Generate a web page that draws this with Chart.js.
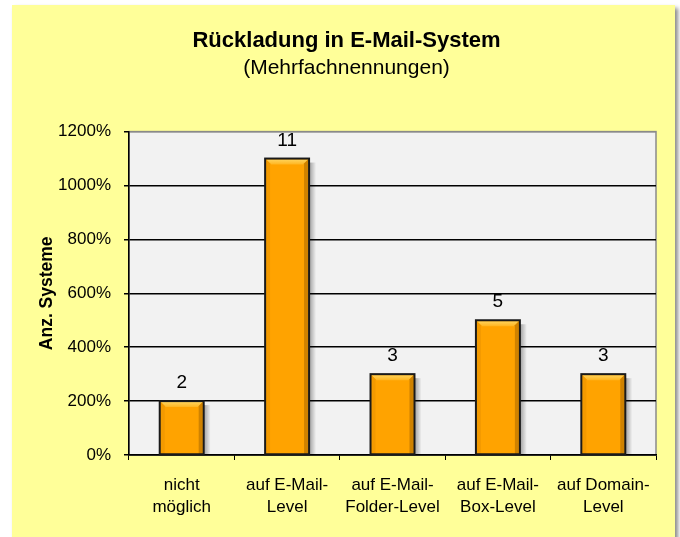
<!DOCTYPE html>
<html>
<head>
<meta charset="utf-8">
<script src="https://cdn.jsdelivr.net/npm/chart.js@4.4.1/dist/chart.umd.min.js"></script>
<style>
    body { margin: 0; background: #ffffff; }
    #wrap { width: 680px; height: 537px; }
</style>
</head>
<body>
<div id="wrap"><canvas id="rueckChart" width="680" height="537"></canvas></div>
<script>
// values
const categories = [['nicht', 'möglich'], ['auf E-Mail-', 'Level'], ['auf E-Mail-', 'Folder-Level'], ['auf E-Mail-', 'Box-Level'], ['auf Domain-', 'Level']];
const systemCounts = [2, 11, 3, 5, 3];
const yTicks = [0, 2, 4, 6, 8, 10, 12];

const FONT = "'Liberation Sans', Arial, sans-serif";

// yellow panel + grey plot area
const panelPlugin = {
    id: 'panel',
    beforeDraw: function (chart) {
        const ctx = chart.ctx;
        const a = chart.chartArea;
        ctx.save();
        ctx.shadowColor = 'rgba(0,0,0,0.45)';
        ctx.shadowBlur = 4;
        ctx.shadowOffsetX = 3;
        ctx.shadowOffsetY = 3;
        ctx.fillStyle = '#ffff99';
        ctx.fillRect(12, 5, 663, 545);
        ctx.restore();

        ctx.save();
        ctx.fillStyle = '#f2f2f2';
        ctx.fillRect(a.left, a.top, a.right - a.left, a.bottom - a.top);
        ctx.strokeStyle = '#8a8a8a';
        ctx.lineWidth = 1.5;
        ctx.strokeRect(a.left, a.top, a.right - a.left, a.bottom - a.top);
        ctx.restore();
    }
};

// bar shadow, bevel and value labels
const barLook = {
    id: 'barLook',
    beforeDatasetsDraw: function (chart) {
        const ctx = chart.ctx;
        chart.getDatasetMeta(0).data.forEach(function (bar) {
            const right = bar.x + bar.width / 2;
            const g = ctx.createLinearGradient(right, 0, right + 7, 0);
            g.addColorStop(0, 'rgba(0,0,0,0.35)');
            g.addColorStop(1, 'rgba(0,0,0,0)');
            ctx.save();
            ctx.fillStyle = g;
            ctx.fillRect(right, bar.y + 4, 7, bar.base - bar.y - 4);
            ctx.restore();
        });
    },
    afterDatasetsDraw: function (chart) {
        const ctx = chart.ctx;
        chart.getDatasetMeta(0).data.forEach(function (bar, i) {
            const l = bar.x - bar.width / 2 + 1;
            const r = bar.x + bar.width / 2 - 1;
            const t = bar.y + 1;
            const b = bar.base;
            const s = 5;
            ctx.save();
            // top bevel
            const tg = ctx.createLinearGradient(0, t, 0, t + s);
            tg.addColorStop(0, '#ffd35a');
            tg.addColorStop(1, '#ffb520');
            ctx.fillStyle = tg;
            ctx.beginPath();
            ctx.moveTo(l, t); ctx.lineTo(r, t); ctx.lineTo(r - s, t + s); ctx.lineTo(l + s, t + s);
            ctx.closePath(); ctx.fill();
            // right bevel
            ctx.fillStyle = '#cf8200';
            ctx.beginPath();
            ctx.moveTo(r, t); ctx.lineTo(r, b); ctx.lineTo(r - 4, b); ctx.lineTo(r - 4, t + 4);
            ctx.closePath(); ctx.fill();
            // left bevel
            ctx.fillStyle = '#f39a00';
            ctx.beginPath();
            ctx.moveTo(l, t); ctx.lineTo(l + 4, t + 4); ctx.lineTo(l + 4, b); ctx.lineTo(l, b);
            ctx.closePath(); ctx.fill();
            // outline
            ctx.strokeStyle = '#1a1a1a';
            ctx.lineWidth = 2;
            ctx.strokeRect(bar.x - bar.width / 2, bar.y, bar.width, bar.base - bar.y);
            // value
            ctx.fillStyle = '#000';
            ctx.font = '19px ' + FONT;
            ctx.textAlign = 'center';
            ctx.textBaseline = 'middle';
            ctx.fillText(String(systemCounts[i]), bar.x, bar.y - 18);
            ctx.restore();
        });
    }
};

new Chart(document.getElementById('rueckChart'), {
    type: 'bar',
    data: {
        labels: categories,
        datasets: [{
            data: systemCounts,
            backgroundColor: '#ffa300',
            borderWidth: 0,
            categoryPercentage: 1,
            barPercentage: 0.417
        }]
    },
    options: {
        responsive: false,
        devicePixelRatio: 1,
        animation: false,
        layout: { padding: { left: 37, right: 24, top: 0, bottom: 0 } },
        plugins: {
            legend: { display: false },
            tooltip: { enabled: false },
            title: {
                display: true,
                text: 'Rückladung in E-Mail-System',
                color: '#000',
                font: { family: FONT, size: 22, weight: 'bold' },
                padding: { top: 28, bottom: 0 }
            },
            subtitle: {
                display: true,
                text: '(Mehrfachnennungen)',
                color: '#000',
                font: { family: FONT, size: 21 },
                padding: { top: 1, bottom: 51 }
            }
        },
        scales: {
            x: {
                afterFit: function (s) { s.height = 82; },
                border: { display: true, color: '#000', width: 1.5 },
                grid: { drawOnChartArea: false, drawTicks: true, tickLength: 5, color: '#000', offset: true },
                ticks: {
                    color: '#000',
                    padding: 14,
                    maxRotation: 0,
                    autoSkip: false,
                    font: { family: FONT, size: 17, lineHeight: 1.3 }
                }
            },
            y: {
                min: 0,
                max: 12,
                afterFit: function (s) { s.width = 92; },
                afterBuildTicks: function (s) { s.ticks = yTicks.map(function (v) { return { value: v }; }); },
                border: { display: true, color: '#000', width: 1.5 },
                grid: {
                    color: function (c) { return c.tick && c.tick.value === 12 ? '#8a8a8a' : '#000'; },
                    tickColor: '#000',
                    lineWidth: 1.5,
                    tickLength: 5
                },
                ticks: {
                    color: '#000',
                    padding: 13,
                    font: { family: FONT, size: 17 },
                    callback: function (v) { return (v * 100) + '%'; }
                },
                title: {
                    display: true,
                    text: 'Anz. Systeme',
                    color: '#000',
                    font: { family: FONT, size: 17.5, weight: 'bold' },
                    padding: 0
                }
            }
        }
    },
    plugins: [panelPlugin, barLook]
});
</script>
</body>
</html>
